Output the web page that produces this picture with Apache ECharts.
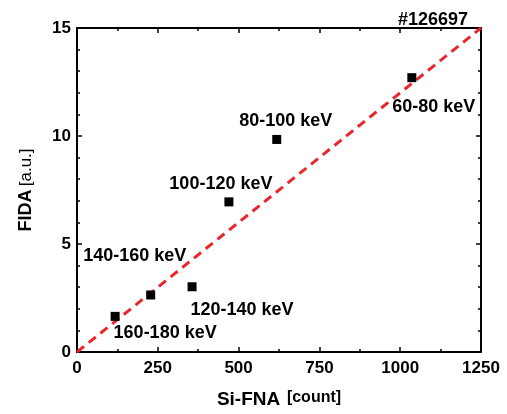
<!DOCTYPE html>
<html><head><meta charset="utf-8">
<script src="https://cdn.jsdelivr.net/npm/echarts@6/dist/echarts.min.js"></script>
<style>html,body{margin:0;padding:0;background:#fff}#c{width:507px;height:414px}</style>
</head><body><div id="c"></div>
<script>
const energyLabels = ['60-80 keV','80-100 keV','100-120 keV','120-140 keV','140-160 keV','160-180 keV'];
const siFna = [1036, 618, 470, 356, 228, 118];
const fida = [12.7, 9.84, 6.95, 3.02, 2.64, 1.65];
const fitLineX = [0, 1250];
const fitLineY = [0, 15];
const labelOffsets = [[22,29],[9,-18],[-8,-18],[50,23],[-16,-39],[50,17]];
const shotTitle = '#126697';

const FONT = 'Liberation Sans';
const chart = echarts.init(document.getElementById('c'));
const axisLine = {show:true, onZero:false, lineStyle:{color:'#000', width:2}};
const tick = {inside:true, length:5, lineStyle:{width:1.5,color:'#000'}};
chart.setOption({
  backgroundColor:'#fff',
  animation:false,
  title:{text:shotTitle, right:34, top:6, textStyle:{fontFamily:FONT, fontWeight:'bold', fontSize:18, color:'#000'}},
  grid:{left:77, right:26, top:28, bottom:58},
  xAxis:[
    {type:'value', position:'bottom', min:0, max:1250, interval:250,
     axisLine, axisTick:tick,
     minorTick:{show:true, splitNumber:2, length:3, lineStyle:{width:1.5,color:'#000'}},
     splitLine:{show:false},
     axisLabel:{fontFamily:FONT, fontWeight:'bold', fontSize:17, color:'#000', margin:8, formatter:v=>String(v)},
     name:'{b|Si-FNA}  {n|[count]}', nameLocation:'middle', nameGap:38,
     nameTextStyle:{rich:{b:{fontFamily:FONT, fontWeight:'bold', fontSize:19, color:'#000'}, n:{fontFamily:FONT, fontSize:16, fontWeight:'bold', color:'#000', padding:[0,0,3,0]}}}},
    {type:'value', position:'top', min:0, max:1250, interval:250,
     axisLine, axisTick:tick,
     minorTick:{show:true, splitNumber:2, length:3, lineStyle:{width:1.5,color:'#000'}},
     splitLine:{show:false}, axisLabel:{show:false}}
  ],
  yAxis:[
    {type:'value', position:'left', min:0, max:15, interval:5,
     axisLine, axisTick:tick,
     minorTick:{show:true, splitNumber:5, length:3, lineStyle:{width:1.5,color:'#000'}},
     splitLine:{show:false},
     axisLabel:{fontFamily:FONT, fontWeight:'bold', fontSize:17, color:'#000', margin:6},
     name:'{b|FIDA} {n|[a.u.]}', nameLocation:'middle', nameGap:42,
     nameTextStyle:{rich:{b:{fontFamily:FONT, fontWeight:'bold', fontSize:18, color:'#000'}, n:{fontFamily:FONT, fontSize:17, color:'#000'}}}},
    {type:'value', position:'right', min:0, max:15, interval:5,
     axisLine, axisTick:tick,
     minorTick:{show:true, splitNumber:5, length:3, lineStyle:{width:1.5,color:'#000'}},
     splitLine:{show:false}, axisLabel:{show:false}}
  ],
  series:[
    {type:'line', data:fitLineX.map((x,i)=>[x,fitLineY[i]]), symbol:'none', silent:true,
     lineStyle:{color:'#e8262b', width:3, type:[9,6]}, z:2},
    {type:'scatter', symbol:'rect', symbolSize:9, itemStyle:{color:'#000', opacity:1}, z:3,
     data:siFna.map((x,i)=>({value:[x,fida[i]], label:{show:true, formatter:energyLabels[i], position:'inside', offset:labelOffsets[i],
       fontFamily:FONT, fontWeight:'bold', fontSize:18, color:'#000', opacity:1, textBorderWidth:0}}))}
  ]
});
</script></body></html>
